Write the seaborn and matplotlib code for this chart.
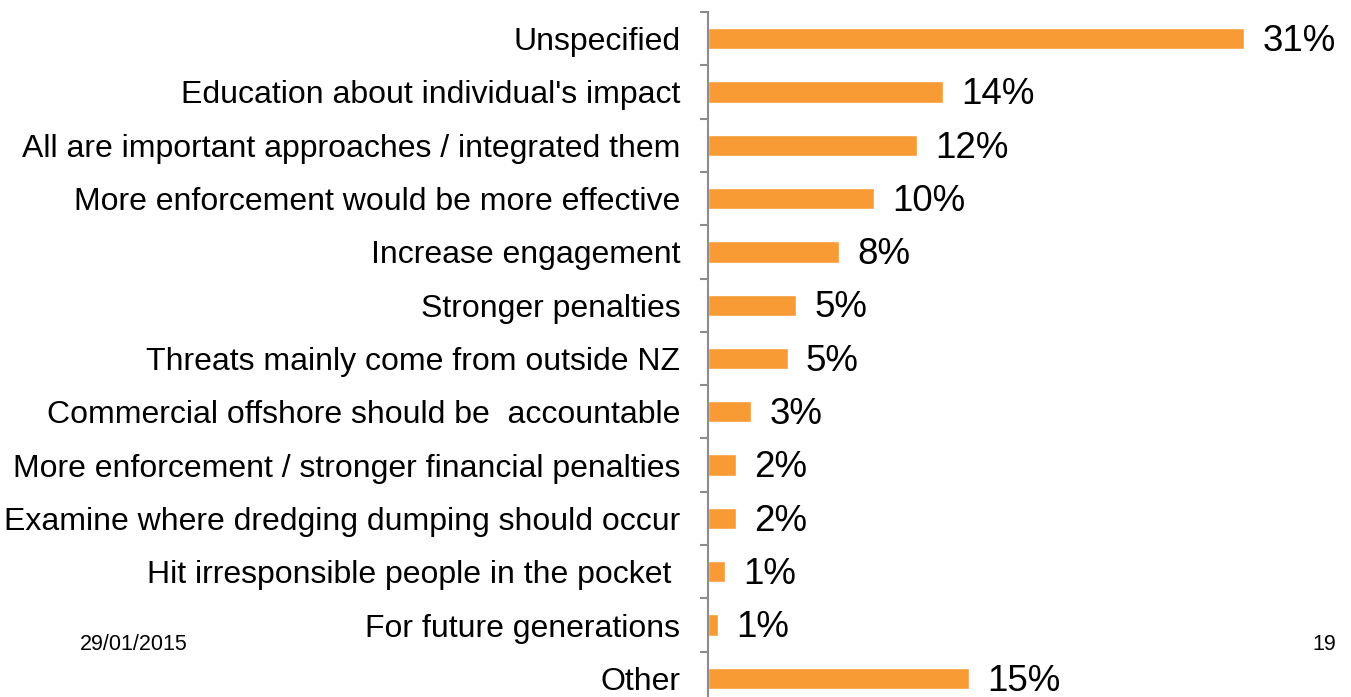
"""
Horizontal bar chart of suggested approaches (share of responses).
"""

import matplotlib
matplotlib.use('Agg')
import matplotlib.pyplot as plt
import numpy as np
import pandas as pd
import seaborn as sns

# ---------------------------------------------------------------------------
# Data
# ---------------------------------------------------------------------------
CATEGORIES = [
    'Unspecified',
    "Education about individual's impact",
    'All are important approaches / integrated them',
    'More enforcement would be more effective',
    'Increase engagement',
    'Stronger penalties',
    'Threats mainly come from outside NZ',
    'Commercial offshore should be  accountable',
    'More enforcement / stronger financial penalties',
    'Examine where dredging dumping should occur',
    'Hit irresponsible people in the pocket ',
    'For future generations',
    'Other',
]
VALUES = [31.0, 13.6, 12.1, 9.6, 7.6, 5.1, 4.6, 2.5, 1.6, 1.6, 1.0, 0.6, 15.1]
VALUE_LABELS = ['31%', '14%', '12%', '10%', '8%', '5%', '5%', '3%', '2%', '2%',
                '1%', '1%', '15%']
FOOTER_DATE = '29/01/2015'
FOOTER_PAGE = '19'

BAR_COLOR = '#F99B35'
AXIS_GREY = '#8C8C8C'
FONT = ['Liberation Sans', 'DejaVu Sans']

sns.set_style('white')
plt.rcParams['font.family'] = FONT

df = pd.DataFrame({'category': CATEGORIES, 'value': VALUES})

fig = plt.figure(figsize=(13.51, 6.97), dpi=100)
ax = fig.add_axes([708 / 1351, -8 / 697, 640 / 1351, 697 / 697 - 12 / 697 + 8 / 697])

sns.barplot(data=df, x='value', y='category', orient='h', color=BAR_COLOR,
            saturation=1, width=0.4, ax=ax)

# value labels just right of each bar, nudged down a little
for i, (val, lab) in enumerate(zip(VALUES, VALUE_LABELS)):
    ax.annotate(lab, xy=(val, i), xytext=(13, -2), textcoords='offset points',
                ha='left', va='center', fontsize=26.5, color='black')

ax.set_xlim(0, 37)
ax.set_ylim(len(CATEGORIES) - 0.5, -0.5)
ax.set_xlabel('')
ax.set_ylabel('')
ax.set_xticks([])

# category labels on major ticks (no marks), boundary marks as minor ticks
ax.set_yticks(np.arange(len(CATEGORIES) + 1) - 0.5, minor=True)
ax.tick_params(axis='y', which='major', left=True, length=0, pad=20,
               labelsize=23, labelcolor='black')
ax.tick_params(axis='y', which='minor', left=True, length=6, width=1.5,
               color=AXIS_GREY, direction='out')

for side in ['top', 'right', 'bottom']:
    ax.spines[side].set_visible(False)
ax.spines['left'].set_color(AXIS_GREY)
ax.spines['left'].set_linewidth(1.5)

fig.text(80 / 1351, 1 - 645 / 697, FOOTER_DATE, fontsize=15.5, ha='left',
         va='center', color='black')
fig.text(1336 / 1351, 1 - 645 / 697, FOOTER_PAGE, fontsize=15.5, ha='right',
         va='center', color='black')

fig.savefig('out.png', dpi=100)
plt.close(fig)
